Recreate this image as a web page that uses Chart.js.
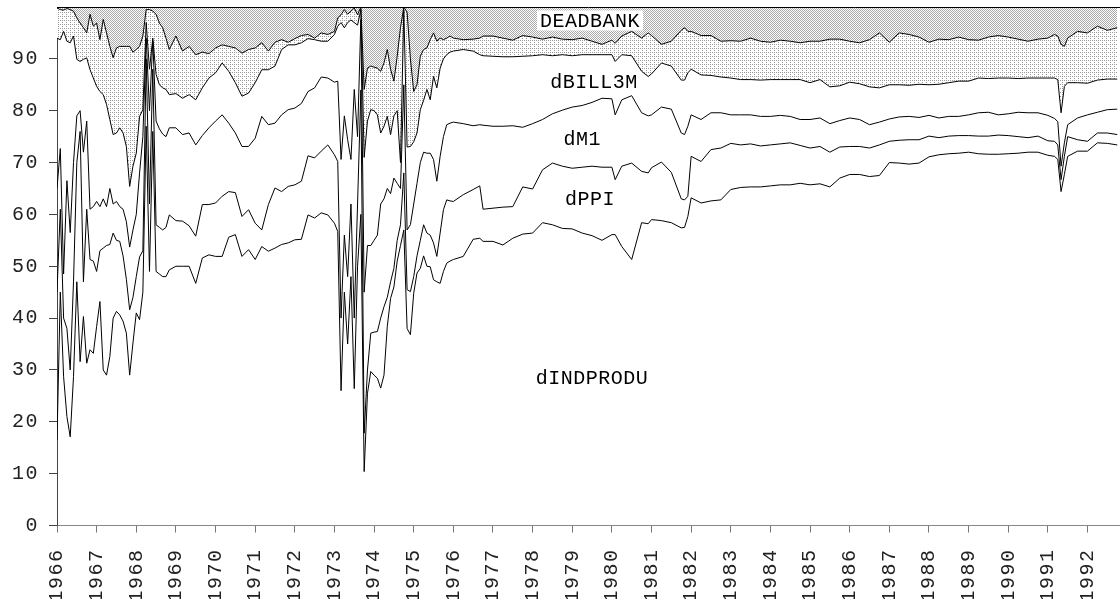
<!DOCTYPE html>
<html>
<head>
<meta charset="utf-8">
<script src="https://cdn.jsdelivr.net/npm/chart.js@4.4.1/dist/chart.umd.min.js"></script>
<style>
  html, body { margin: 0; padding: 0; background: #fff; }
  #wrap { width: 1120px; height: 599px; }
</style>
</head>
<body>
<div id="wrap"><canvas id="decomp" width="1120" height="599"></canvas></div>
<script>
/* ==========================================
   Variance decomposition, cumulative shares
========================================== */

// month index, 0 = Jan 1966
const months = [
  0,1,2,3,4,5,6,7,8,9,10,11,12,13,14,15,16,17,18,19,20,21,22,23,24,25,26,27,28,29,30,31,32,33,
  34,36,38,40,42,44,46,48,50,52,54,56,58,60,62,64,66,68,70,72,74,76,78,80,82,84,
  85,86,87,88,89,90,91,92,93,94,95,96,97,98,99,100,101,102,103,104,105,106,107,108,109,110,
  111,112,113,114,115,116,117,118,119,
  120,123,126,128,129,132,135,138,141,144,147,150,153,156,159,162,165,168,169,171,
  174,177,179,180,183,186,189,190,191,192,195,198,201,204,207,210,213,216,219,222,
  225,228,231,234,237,240,243,246,249,252,255,258,261,264,267,270,273,276,279,282,
  285,288,291,294,297,300,302,303,304,305,306,309,312,315,318,321
];

// top of dINDPRODU
const cumIndprodu = [
  16.5,45,28.7,21,17.1,28.7,47,31.6,40.3,31.3,33.9,33.2,38.4,43.2,30,29,32.6,40,41.3,40.6,
  39.4,37.1,29,35.2,41,39.7,45,77,49,76,49,48.5,48,48,
  49.3,50.0,50.0,50.0,46.7,51.6,52.2,51.9,51.9,55.6,56.1,51.9,53.2,51.3,53.8,52.9,53.5,54.2,54.5,55.1,
  55.2,59.9,59.3,60.3,59.9,58.3,
  56.7,26,45,35,48,26.4,50,60,10.4,25.5,29.7,29,28.4,26.5,29,38.4,43.8,46,51,54,
  57,38,36.8,44.8,48.7,49.6,52,50,49.9,47.4,47,46.7,49,50.6,51,
  51.3,51.9,55.2,55.4,54.8,54.8,54.1,55.4,56.2,56.4,58.4,58.0,57.3,57.2,56.4,55.9,55.0,56.1,56.1,53.8,
  51.3,58.4,58.2,59.0,58.8,58.4,57.4,57.5,59.6,63.2,62.2,62.6,62.8,64.8,65.2,65.3,65.3,65.5,65.7,65.7,
  66.0,65.7,65.9,65.3,67.0,67.7,67.7,67.3,67.5,70.0,69.9,69.7,69.9,71.1,71.5,71.7,71.8,72.0,71.7,71.6,
  71.6,71.7,71.8,72.0,72.0,71.4,71.2,70.6,64.4,67.7,71.2,72.2,72.2,73.8,73.7,73.4
];

// top of dPPI
const cumPpi = [
  45,61,40,38,30,47,70,76,47,61,51.3,51,49,53,53.5,54,54.2,56.4,55,54.8,
  52,47.5,41.6,44,48,51.8,53,90,62,88,58,57.5,57,57.5,
  59.9,58.8,58.7,57.8,55.8,61.9,61.9,62.2,63.5,64.4,64.2,59.6,60.9,58.3,57.0,61.9,65.1,64.4,65.4,65.7,
  66.4,71.3,70.9,72.2,73.4,71.5,
  70.2,40,56,48,62,40,62,84,17.8,30,37.1,37.3,37.4,40,42.2,44,47,49.6,55,58,
  68,45.5,45.1,48,52,55,58,56.4,56,54.5,51.9,56.4,60.9,62.8,62.6,
  62.5,63.8,64.8,65.5,61.0,61.2,61.4,61.5,65.3,64.9,68.6,69.9,69.3,68.9,69.1,69.3,69.1,69.1,66.7,69.3,
  69.9,68.3,68.0,69.0,70.1,68.1,63.0,62.8,63.5,71.2,70.2,72.5,72.8,73.7,73.4,73.6,73.2,73.4,73.6,73.8,
  73.3,72.8,73.1,72.0,73.0,73.1,73.1,72.8,73.4,74.1,74.3,74.4,74.4,75.1,74.8,75.1,75.2,75.2,75.1,75.1,
  75.3,75.2,75.0,74.8,75.1,74.2,74.1,73.4,66.7,71.2,75.0,74.4,74.1,75.7,75.7,75.4
];

// top of dM1
const cumM1 = [
  65,72.7,48.5,66.5,56.5,70,79,80,72,78,61,61.5,62.5,61.5,63,61.5,65,62,62.5,61.5,
  61,58.6,53.7,57,60,68,75,94,80,93.5,78,76.5,75.5,75,
  76.7,76.7,75.4,75.7,73.4,75.2,76.7,78.0,79.2,77.6,75.7,73.1,73.1,74.7,78.9,77.3,77.6,79.2,80.2,80.5,
  81.4,83.7,84.4,86.5,86.3,85.5,
  85.7,70.6,79,74.4,70.6,84.1,75,97.6,45,54,54,55,56,62,63,65,64,67,66,65,
  85,57,58,62,66,70,72,71.8,71.8,70.6,66.4,71.2,75,77.3,77.6,
  77.8,77.5,77.1,77.3,77.2,77.0,77.0,77.1,76.8,77.5,78.3,79.4,80.1,80.7,81.0,81.6,82.4,82.3,79.2,82.1,
  82.9,79.6,79.0,79.2,80.7,80.3,75.7,75.4,77.0,79.2,78.3,79.6,79.6,79.2,79.2,79.2,78.9,78.9,79.1,78.9,
  78.3,78.3,78.6,77.5,78.1,78.6,78.3,77.3,77.8,78.4,78.8,78.9,78.7,79.1,78.6,78.9,78.9,79.2,79.6,79.7,
  79.2,79.4,79.7,79.6,79.6,79.1,78.5,77.9,69.3,73.8,77.3,78.6,79.2,79.7,80.2,80.3
];

// top of dBILL3M
const cumBill3m = [
  94.0,93.7,95.3,93.4,93.1,94.4,89.9,89.5,89.9,90.2,87.9,86.3,84.7,83.7,83.1,81.2,78.3,75.4,75.7,76.7,
  75.7,73.1,65.4,69.3,71.8,78.9,80.2,97.0,88.0,94.0,87.0,85.0,84.4,84.1,
  83.1,83.3,82.4,83.1,82.1,84.4,86.3,87.3,89.2,87.6,85.4,82.8,83.4,85.4,87.9,87.9,88.6,91.8,92.7,92.7,
  93.1,93.9,93.7,93.4,93.4,94.7,
  96.3,97,96,97,97.5,97,96.5,99.5,71,78,80.2,80,79.2,75.7,77,78.9,75.4,79,80,70,
  99.5,73,73.1,74,75.7,80.2,82,84.1,82.1,86.6,84.4,88.2,90,90.8,91.3,
  91.5,91.8,91.5,90.8,90.6,90.5,90.4,90.4,90.5,90.6,90.8,90.6,90.8,90.6,90.8,90.8,90.8,90.8,89.5,90.8,
  90.6,87.6,86.6,87.1,89.2,88.6,85.9,85.9,87.3,88.0,86.9,86.8,86.5,86.3,86.0,86.0,85.9,86.0,86.0,86.0,
  86.0,85.4,86.0,84.6,84.8,85.5,85.2,84.6,84.4,85.0,85.0,84.9,85.1,85.0,85.1,85.4,85.7,85.7,86.3,86.2,
  86.3,86.3,86.2,86.3,86.3,86.3,86.3,86.0,79.6,84.7,85.4,85.4,85.3,85.9,86.1,86.1
];

// top of the unlabelled block under DEADBANK
const cumOther = [
  99.8,99.5,99.4,99.7,99.5,99.2,97.9,96.9,96.0,95.0,98.6,96.3,96.9,93.7,97.6,95.0,92.4,90.2,92.1,92.4,
  92.4,92.4,92.4,91.3,91.8,92.4,94.4,99.5,99.5,99.2,98.6,96.9,96.0,94.0,
  91.8,94.4,91.5,92.4,90.8,91.3,91.0,92.1,92.7,92.4,92.1,91.1,91.8,92.1,93.1,91.5,93.2,93.7,93.2,93.9,
  94.5,94.7,94.0,95.0,94.7,95.3,
  97.9,98.5,99.5,98.6,99.2,99.8,98.5,100,84.1,88.2,88.6,88.4,88.2,87.6,89.2,91.8,88,85.7,90.5,96,
  100,99,90,83.7,85,90.5,91.8,92.1,93.7,95,93.4,94,93.7,94,94.4,
  94.0,93.7,93.8,94.0,94.4,94.4,94.0,93.6,94.5,94.2,93.8,94.2,93.8,93.7,94.0,93.4,92.8,93.6,93.0,94.4,
  95.3,94.0,95.0,94.5,92.8,93.4,95.5,96.0,95.3,95.3,94.5,94.5,93.4,93.5,93.4,94.0,93.4,93.2,93.6,93.4,
  93.1,93.4,93.4,93.8,93.8,93.4,93.1,93.7,95.0,93.2,95.0,94.7,94.2,93.2,93.8,93.7,94.2,93.7,93.6,94.2,
  94.5,94.2,93.8,93.4,93.8,94.0,94.7,94.4,92.8,92.4,94.0,95.3,95.0,96.3,95.5,96.0
];

const yearTicks = [];
for (let y = 1966; y <= 1992; y++) yearTicks.push(y);

const areaLabels = [
  { text: "DEADBANK",  x: 1979.45, y: 97.4, box: true },
  { text: "dBILL3M",   x: 1979.55, y: 85.6 },
  { text: "dM1",       x: 1979.25, y: 74.6 },
  { text: "dPPI",      x: 1979.45, y: 63.0 },
  { text: "dINDPRODU", x: 1979.5,  y: 28.5 }
];

const MONO = '"Liberation Mono", "Courier New", monospace';

/* ======================================
        Dot fills
====================================== */

function makePattern(size, dots, dotColor) {
  const c = document.createElement("canvas");
  c.width = size; c.height = size;
  const g = c.getContext("2d");
  g.fillStyle = "#ffffff";
  g.fillRect(0, 0, size, size);
  g.fillStyle = dotColor;
  dots.forEach(d => g.fillRect(d[0], d[1], 1, 1));
  return g.createPattern(c, "repeat");
}

const ctx = document.getElementById("decomp").getContext("2d");
const darkDots = makePattern(2, [[0,0],[1,1]], "#a8a8a8");
const lightDots = makePattern(4, [[0,0],[2,2],[2,0]], "#9a9a9a");

const toPoints = vals => months.map((m, i) => ({ x: 1966 + m / 12, y: vals[i] }));

const lineStyle = {
  borderColor: "#000",
  borderWidth: 1,
  pointRadius: 0,
  tension: 0
};

/* ======================================
        Labels + top frame
====================================== */

const spacingPlugin = {
  id: "spacing",
  beforeLayout(chart) { chart.ctx.letterSpacing = "1.5px"; },
  beforeDraw(chart) { chart.ctx.letterSpacing = "1.5px"; }
};

const decorPlugin = {
  id: "decor",
  afterDatasetsDraw(chart) {
    const { ctx, chartArea, scales } = chart;
    ctx.save();
    ctx.strokeStyle = "#000";
    ctx.lineWidth = 1;
    ctx.beginPath();
    ctx.moveTo(chartArea.left, chartArea.top + 0.5);
    ctx.lineTo(chartArea.right, chartArea.top + 0.5);
    ctx.stroke();

    ctx.letterSpacing = "0.5px";
    ctx.font = "20px " + MONO;
    ctx.textAlign = "center";
    ctx.textBaseline = "middle";
    areaLabels.forEach(l => {
      const px = scales.x.getPixelForValue(l.x);
      const py = scales.y.getPixelForValue(l.y);
      if (l.box) {
        const w = ctx.measureText(l.text).width;
        ctx.fillStyle = "#fff";
        ctx.fillRect(px - w / 2 - 3, py - 10, w + 6, 20);
      }
      ctx.fillStyle = "#000";
      ctx.fillText(l.text, px, py + 1);
    });
    ctx.restore();
    ctx.letterSpacing = "1.5px";
  }
};

new Chart(ctx, {
  type: "line",
  data: {
    datasets: [
      { ...lineStyle, label: "dINDPRODU", data: toPoints(cumIndprodu), fill: false },
      { ...lineStyle, label: "dPPI",      data: toPoints(cumPpi),      fill: false },
      { ...lineStyle, label: "dM1",       data: toPoints(cumM1),       fill: false },
      { ...lineStyle, label: "dBILL3M",   data: toPoints(cumBill3m),   fill: "+1", backgroundColor: lightDots },
      { ...lineStyle, label: "other",     data: toPoints(cumOther),    fill: "end", backgroundColor: darkDots }
    ]
  },
  options: {
    responsive: false,
    animation: false,
    devicePixelRatio: 1,
    layout: { padding: { top: 7, right: 0, left: 0, bottom: 0 } },
    plugins: {
      legend: { display: false },
      tooltip: { enabled: false },
      filler: { drawTime: "beforeDatasetsDraw" }
    },
    scales: {
      x: {
        type: "linear",
        min: 1966,
        max: 1992.82,
        afterBuildTicks: axis => { axis.ticks = yearTicks.map(v => ({ value: v })); },
        afterFit: s => {
          s.height = 73.5;
          s.paddingLeft = 0; s.paddingRight = 0; s.paddingTop = 0; s.paddingBottom = 0;
        },
        grid: { drawOnChartArea: false, drawTicks: true, tickLength: 7, color: "#777" },
        border: { display: true, color: "#888", width: 1 },
        ticks: {
          minRotation: 90,
          maxRotation: 90,
          padding: 16,
          color: "#222",
          font: { family: MONO, size: 20 },
          callback: v => String(v)
        }
      },
      y: {
        min: 0,
        max: 100,
        afterBuildTicks: axis => {
          const t = [];
          for (let v = 0; v <= 90; v += 10) t.push({ value: v });
          axis.ticks = t;
        },
        afterFit: s => {
          s.width = 57;
          s.paddingLeft = 0; s.paddingRight = 0; s.paddingTop = 0; s.paddingBottom = 0;
        },
        grid: { drawOnChartArea: false, drawTicks: true, tickLength: 8, color: "#444" },
        border: { display: true, color: "#444", width: 1 },
        ticks: {
          padding: 10,
          color: "#222",
          font: { family: MONO, size: 20 },
          callback: v => String(v)
        }
      }
    }
  },
  plugins: [spacingPlugin, decorPlugin]
});
</script>
</body>
</html>
